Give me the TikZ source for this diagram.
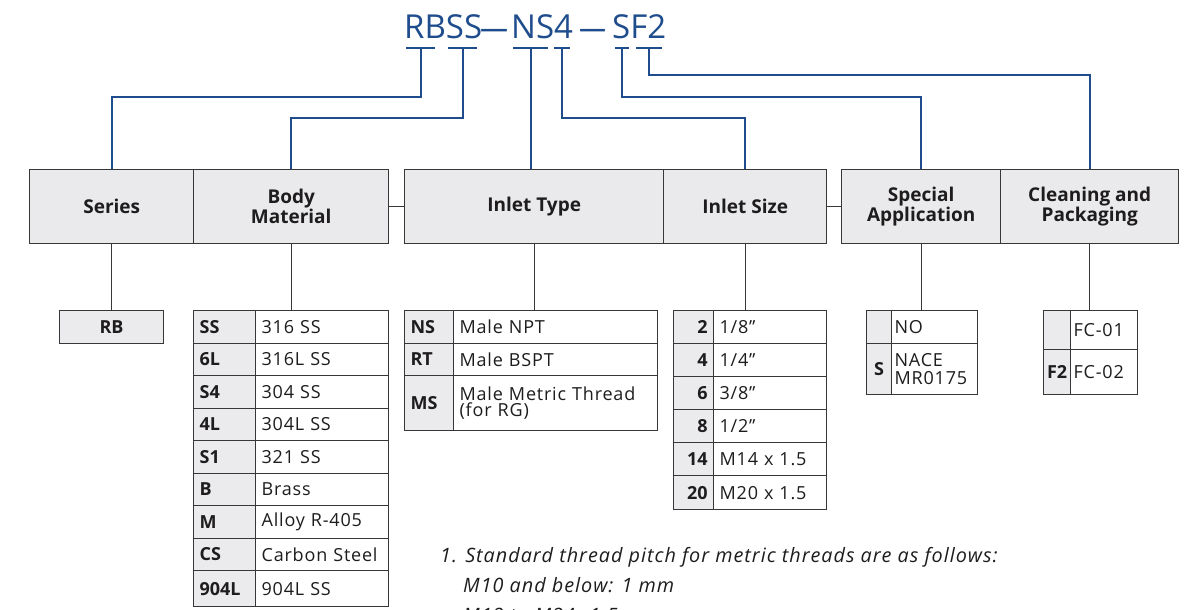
\documentclass[tikz,border=0pt]{standalone}
\usepackage{fontspec}
\setmainfont{Open Sans}
\definecolor{tblue}{RGB}{30,76,140}
\definecolor{edge}{RGB}{55,55,55}
\definecolor{hfill}{RGB}{234,234,236}
\definecolor{cfill}{RGB}{235,235,237}
\definecolor{txt}{RGB}{30,28,29}
\tikzset{
 hdr/.style={draw=edge, line width=1.4pt, fill=hfill, font=\fontsize{19}{20}\selectfont\bfseries, text=txt, align=center, inner sep=0pt, anchor=north west},
 codecell/.style={draw=edge, line width=1.2pt, fill=cfill, font=\fontsize{18}{17}\selectfont\bfseries, text=txt, inner xsep=6pt, inner ysep=0pt, anchor=north west, align=left},
 codecellr/.style={codecell, align=right},
 codecellc/.style={codecell, align=center, inner xsep=2pt},
 desccell/.style={draw=edge, line width=1.2pt, fill=white, font=\fontsize{18}{17}\selectfont\addfontfeature{LetterSpace=4.5}, text=txt, inner xsep=6pt, inner ysep=0pt, anchor=north west, align=left},
 desccelln/.style={desccell, inner xsep=3pt},
 bline/.style={draw=tblue, line width=2pt},
 gline/.style={draw=edge, line width=1.3pt},
 ttl/.style={text=tblue, font=\fontsize{33}{33}\selectfont, inner sep=0pt, anchor=base west},
 note/.style={text=txt, font=\fontsize{19.8}{19}\selectfont\itshape\addfontfeature{LetterSpace=5}, inner sep=0pt, anchor=base west},
}
% style, name, x0, x1, ytop, height, text
\newcommand\tcell[7]{\pgfmathsetmacro\tcw{#4-#3-12}\node[#1, text width=\tcw pt, minimum height=#6pt] (#2) at (#3,#5) {#7};}
\newcommand\tcelln[7]{\pgfmathsetmacro\tcw{#4-#3-4}\node[#1, text width=\tcw pt, minimum height=#6pt] (#2) at (#3,#5) {#7};}
\begin{document}
\begin{tikzpicture}[x=1pt,y=-1pt]
\useasboundingbox (0,0) rectangle (1186,610);
\clip (0,0) rectangle (1186,610);

% title
\node[ttl] (tRBSS) at (404,39) {RBSS};
\node[ttl] (td1) at (480,39) {\resizebox{28pt}{\height}{—}};
\node[ttl] (tNS4) at (511,39) {NS4};
\node[ttl] (td2) at (579,39) {\resizebox{27pt}{\height}{—}};
\node[ttl] (tSF2) at (612,39) {SF2};

% headers
\node[hdr, minimum width=164pt, minimum height=74pt] (series) at (29,169) {Series};
\node[hdr, minimum width=195pt, minimum height=74pt] (body) at (193,169) {Body\\Material};
\node[hdr, minimum width=259pt, minimum height=74pt] (itype) at (404,169) {Inlet Type};
\node[hdr, minimum width=163pt, minimum height=74pt] (isize) at (663,169) {Inlet Size};
\node[hdr, minimum width=159pt, minimum height=74pt] (special) at (841,169) {Special\\Application};
\node[hdr, minimum width=178pt, minimum height=74pt] (clean) at (1000,169) {Cleaning and\\Packaging};

\draw[gline] (body.east) -- (itype.west);
\draw[gline] (isize.east) -- (special.west);

% blue code brackets
\coordinate (rbL) at (406,48); \coordinate (rbR) at (435,48); \coordinate (rbM) at (421,48);
\coordinate (ssL) at (448,48); \coordinate (ssR) at (477,48); \coordinate (ssM) at (463,48);
\coordinate (nsL) at (513,48); \coordinate (nsR) at (548,48); \coordinate (nsM) at (531,48);
\coordinate (szL) at (554,48); \coordinate (szR) at (570,48); \coordinate (szM) at (562,48);
\coordinate (sL) at (615,48); \coordinate (sR) at (629,48); \coordinate (sM) at (622,48);
\coordinate (fL) at (636,48); \coordinate (fR) at (662,48); \coordinate (fM) at (649,48);
\foreach \a in {rb,ss,ns,sz,s,f} { \draw[bline] (\a L) -- (\a R); }
\draw[bline] (rbM) -- ++(0,49) -| (series.north);
\draw[bline] (ssM) -- ++(0,70) -| (body.north);
\draw[bline] (nsM) -- (nsM |- itype.north);
\draw[bline] (szM) -- ++(0,70) -| (isize.north);
\draw[bline] (sM) -- ++(0,49) -| (special.north);
\draw[bline] (fM) -- ++(0,27) -| (clean.north);

% series table
\node[codecell, align=center, minimum width=104pt, minimum height=33pt, text width={}, inner xsep=0pt] (rb) at (59,310) {RB};
\draw[gline] (series.south) -- (series.south |- rb.north);

% body material table
\tcell{codecell}{bm1c}{193}{255}{310}{32.5}{SS}   \tcell{desccell}{bm1d}{255}{388}{310}{32.5}{316 SS}
\tcell{codecell}{bm2c}{193}{255}{342.5}{32.5}{6L} \tcell{desccell}{bm2d}{255}{388}{342.5}{32.5}{316L SS}
\tcell{codecell}{bm3c}{193}{255}{375}{32.5}{S4}   \tcell{desccell}{bm3d}{255}{388}{375}{32.5}{304 SS}
\tcell{codecell}{bm4c}{193}{255}{407.5}{32.5}{4L} \tcell{desccell}{bm4d}{255}{388}{407.5}{32.5}{304L SS}
\tcell{codecell}{bm5c}{193}{255}{440}{32.5}{S1}   \tcell{desccell}{bm5d}{255}{388}{440}{32.5}{321 SS}
\tcell{codecell}{bm6c}{193}{255}{472.5}{32.5}{B}  \tcell{desccell}{bm6d}{255}{388}{472.5}{32.5}{Brass}
\tcell{codecell}{bm7c}{193}{255}{505}{32.5}{M}    \tcell{desccell}{bm7d}{255}{388}{505}{32.5}{Alloy R-405}
\tcell{codecell}{bm8c}{193}{255}{537.5}{32.5}{CS} \tcell{desccell}{bm8d}{255}{388}{537.5}{32.5}{Carbon Steel}
\tcell{codecell}{bm9c}{193}{255}{570}{36}{904L}   \tcell{desccell}{bm9d}{255}{388}{570}{36}{904L SS}
\draw[gline] (body.south) -- (body.south |- bm1d.north);

% inlet type table
\tcell{codecell}{it1c}{404}{453}{310}{32.5}{NS} \tcell{desccell}{it1d}{453}{657}{310}{32.5}{Male NPT}
\tcell{codecell}{it2c}{404}{453}{342.5}{32.5}{RT} \tcell{desccell}{it2d}{453}{657}{342.5}{32.5}{Male BSPT}
\tcell{codecell}{it3c}{404}{453}{375}{55}{MS} \tcell{desccell}{it3d}{453}{657}{375}{55}{Male Metric Thread\\[-1pt](for RG)}
\draw[gline] (itype.south) -- (itype.south |- it1d.north);

% inlet size table
\tcell{codecellr}{is1c}{673}{713}{310}{33}{2} \tcell{desccell}{is1d}{713}{826}{310}{33}{1/8"}
\tcell{codecellr}{is2c}{673}{713}{343}{33}{4} \tcell{desccell}{is2d}{713}{826}{343}{33}{1/4"}
\tcell{codecellr}{is3c}{673}{713}{376}{33}{6} \tcell{desccell}{is3d}{713}{826}{376}{33}{3/8"}
\tcell{codecellr}{is4c}{673}{713}{409}{33}{8} \tcell{desccell}{is4d}{713}{826}{409}{33}{1/2"}
\tcell{codecellr}{is5c}{673}{713}{442}{33}{14} \tcell{desccell}{is5d}{713}{826}{442}{33}{M14 x 1.5}
\tcell{codecellr}{is6c}{673}{713}{475}{34}{20} \tcell{desccell}{is6d}{713}{826}{475}{34}{M20 x 1.5}
\draw[gline] (isize.south) -- (isize.south |- is1c.north);

% special application table
\tcelln{codecellc}{sp1c}{866}{891}{310}{33}{} \tcelln{desccelln}{sp1d}{891}{975}{310}{33}{NO}
\tcelln{codecellc}{sp2c}{866}{891}{343}{51}{S} \tcelln{desccelln}{sp2d}{891}{975}{343}{51}{NACE\\[1pt]MR0175}
\draw[gline] (special.south) -- (special.south |- sp1d.north);

% cleaning table
\tcelln{codecellc}{cl1c}{1043}{1070}{310}{39}{} \tcelln{desccelln}{cl1d}{1070}{1135}{310}{39}{FC-01}
\tcelln{codecellc}{cl2c}{1043}{1070}{349}{45}{F2} \tcelln{desccelln}{cl2d}{1070}{1135}{349}{45}{FC-02}
\draw[gline] (clean.south) -- (clean.south |- cl1d.north);

% note
\node[note] (n1) at (440,562) {1. Standard thread pitch for metric threads are as follows:};
\node[note] (n2) at (463,592) {M10 and below: 1 mm};
\node[note] (n3) at (463,622) {M12 to M24: 1.5};
\end{tikzpicture}
\end{document}
